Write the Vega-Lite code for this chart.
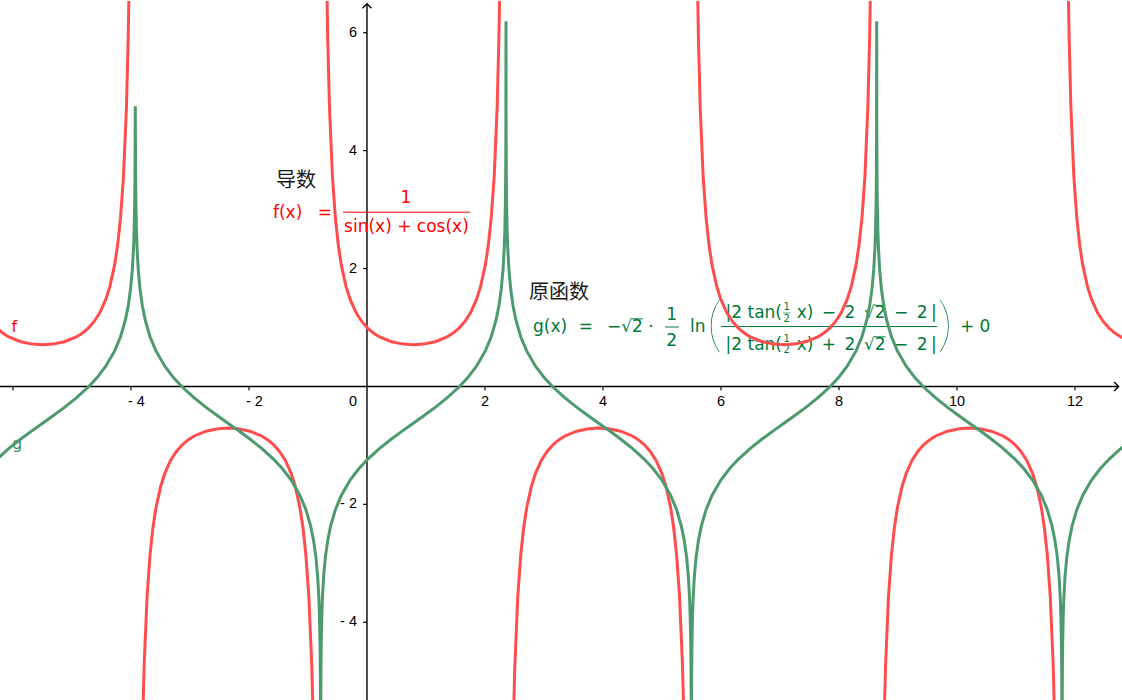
{
  "$schema": "https://vega.github.io/schema/vega-lite/v6.json",
  "width": 1122,
  "height": 700,
  "autosize": {"type": "fit", "contains": "padding"},
  "padding": 0,
  "background": "white",
  "config": {"view": {"stroke": null}, "text": {"font": "DejaVu Sans"}},
  "datasets": {
    "f": [
      {"b": "F1", "x": -6.4686, "y": 1.252}, {"b": "F1", "x": -6.3686, "y": 1.098}, {"b": "F1", "x": -6.2686, "y": 0.986},
      {"b": "F1", "x": -6.1686, "y": 0.903}, {"b": "F1", "x": -6.0686, "y": 0.84}, {"b": "F1", "x": -5.8686, "y": 0.759},
      {"b": "F1", "x": -5.6686, "y": 0.718}, {"b": "F1", "x": -5.4978, "y": 0.707}, {"b": "F1", "x": -5.327, "y": 0.718},
      {"b": "F1", "x": -5.127, "y": 0.759}, {"b": "F1", "x": -4.927, "y": 0.84}, {"b": "F1", "x": -4.827, "y": 0.903},
      {"b": "F1", "x": -4.727, "y": 0.986}, {"b": "F1", "x": -4.627, "y": 1.098}, {"b": "F1", "x": -4.527, "y": 1.252},
      {"b": "F1", "x": -4.427, "y": 1.475}, {"b": "F1", "x": -4.357, "y": 1.696}, {"b": "F1", "x": -4.277, "y": 2.062},
      {"b": "F1", "x": -4.227, "y": 2.393}, {"b": "F1", "x": -4.177, "y": 2.858}, {"b": "F1", "x": -4.127, "y": 3.559},
      {"b": "F1", "x": -4.077, "y": 4.732}, {"b": "F1", "x": -4.047, "y": 5.907}, {"b": "F1", "x": -4.027, "y": 7.083},
      {"b": "F1", "x": -4.007, "y": 8.848}, {"b": "F1", "x": -3.987, "y": 11.79},

      {"b": "F2", "x": -3.867, "y": -11.79}, {"b": "F2", "x": -3.847, "y": -8.848}, {"b": "F2", "x": -3.827, "y": -7.083},
      {"b": "F2", "x": -3.807, "y": -5.907}, {"b": "F2", "x": -3.777, "y": -4.732}, {"b": "F2", "x": -3.727, "y": -3.559},
      {"b": "F2", "x": -3.677, "y": -2.858}, {"b": "F2", "x": -3.627, "y": -2.393}, {"b": "F2", "x": -3.577, "y": -2.062},
      {"b": "F2", "x": -3.497, "y": -1.696}, {"b": "F2", "x": -3.427, "y": -1.475}, {"b": "F2", "x": -3.327, "y": -1.252},
      {"b": "F2", "x": -3.227, "y": -1.098}, {"b": "F2", "x": -3.127, "y": -0.986}, {"b": "F2", "x": -3.027, "y": -0.903},
      {"b": "F2", "x": -2.927, "y": -0.84}, {"b": "F2", "x": -2.727, "y": -0.759}, {"b": "F2", "x": -2.527, "y": -0.718},
      {"b": "F2", "x": -2.3562, "y": -0.707}, {"b": "F2", "x": -2.1854, "y": -0.718}, {"b": "F2", "x": -1.9854, "y": -0.759},
      {"b": "F2", "x": -1.7854, "y": -0.84}, {"b": "F2", "x": -1.6854, "y": -0.903}, {"b": "F2", "x": -1.5854, "y": -0.986},
      {"b": "F2", "x": -1.4854, "y": -1.098}, {"b": "F2", "x": -1.3854, "y": -1.252}, {"b": "F2", "x": -1.2854, "y": -1.475},
      {"b": "F2", "x": -1.2154, "y": -1.696}, {"b": "F2", "x": -1.1354, "y": -2.062}, {"b": "F2", "x": -1.0854, "y": -2.393},
      {"b": "F2", "x": -1.0354, "y": -2.858}, {"b": "F2", "x": -0.9854, "y": -3.559}, {"b": "F2", "x": -0.9354, "y": -4.732},
      {"b": "F2", "x": -0.9054, "y": -5.907}, {"b": "F2", "x": -0.8854, "y": -7.083}, {"b": "F2", "x": -0.8654, "y": -8.848},
      {"b": "F2", "x": -0.8454, "y": -11.79},

      {"b": "F3", "x": -0.7254, "y": 11.79}, {"b": "F3", "x": -0.7054, "y": 8.848}, {"b": "F3", "x": -0.6854, "y": 7.083},
      {"b": "F3", "x": -0.6654, "y": 5.907}, {"b": "F3", "x": -0.6354, "y": 4.732}, {"b": "F3", "x": -0.5854, "y": 3.559},
      {"b": "F3", "x": -0.5354, "y": 2.858}, {"b": "F3", "x": -0.4854, "y": 2.393}, {"b": "F3", "x": -0.4354, "y": 2.062},
      {"b": "F3", "x": -0.3554, "y": 1.696}, {"b": "F3", "x": -0.2854, "y": 1.475}, {"b": "F3", "x": -0.1854, "y": 1.252},
      {"b": "F3", "x": -0.0854, "y": 1.098}, {"b": "F3", "x": 0.0146, "y": 0.986}, {"b": "F3", "x": 0.1146, "y": 0.903},
      {"b": "F3", "x": 0.2146, "y": 0.84}, {"b": "F3", "x": 0.4146, "y": 0.759}, {"b": "F3", "x": 0.6146, "y": 0.718},
      {"b": "F3", "x": 0.7854, "y": 0.707}, {"b": "F3", "x": 0.9562, "y": 0.718}, {"b": "F3", "x": 1.1562, "y": 0.759},
      {"b": "F3", "x": 1.3562, "y": 0.84}, {"b": "F3", "x": 1.4562, "y": 0.903}, {"b": "F3", "x": 1.5562, "y": 0.986},
      {"b": "F3", "x": 1.6562, "y": 1.098}, {"b": "F3", "x": 1.7562, "y": 1.252}, {"b": "F3", "x": 1.8562, "y": 1.475},
      {"b": "F3", "x": 1.9262, "y": 1.696}, {"b": "F3", "x": 2.0062, "y": 2.062}, {"b": "F3", "x": 2.0562, "y": 2.393},
      {"b": "F3", "x": 2.1062, "y": 2.858}, {"b": "F3", "x": 2.1562, "y": 3.559}, {"b": "F3", "x": 2.2062, "y": 4.732},
      {"b": "F3", "x": 2.2362, "y": 5.907}, {"b": "F3", "x": 2.2562, "y": 7.083}, {"b": "F3", "x": 2.2762, "y": 8.848},
      {"b": "F3", "x": 2.2962, "y": 11.79},

      {"b": "F4", "x": 2.4162, "y": -11.79}, {"b": "F4", "x": 2.4362, "y": -8.848}, {"b": "F4", "x": 2.4562, "y": -7.083},
      {"b": "F4", "x": 2.4762, "y": -5.907}, {"b": "F4", "x": 2.5062, "y": -4.732}, {"b": "F4", "x": 2.5562, "y": -3.559},
      {"b": "F4", "x": 2.6062, "y": -2.858}, {"b": "F4", "x": 2.6562, "y": -2.393}, {"b": "F4", "x": 2.7062, "y": -2.062},
      {"b": "F4", "x": 2.7862, "y": -1.696}, {"b": "F4", "x": 2.8562, "y": -1.475}, {"b": "F4", "x": 2.9562, "y": -1.252},
      {"b": "F4", "x": 3.0562, "y": -1.098}, {"b": "F4", "x": 3.1562, "y": -0.986}, {"b": "F4", "x": 3.2562, "y": -0.903},
      {"b": "F4", "x": 3.3562, "y": -0.84}, {"b": "F4", "x": 3.5562, "y": -0.759}, {"b": "F4", "x": 3.7562, "y": -0.718},
      {"b": "F4", "x": 3.927, "y": -0.707}, {"b": "F4", "x": 4.0978, "y": -0.718}, {"b": "F4", "x": 4.2978, "y": -0.759},
      {"b": "F4", "x": 4.4978, "y": -0.84}, {"b": "F4", "x": 4.5978, "y": -0.903}, {"b": "F4", "x": 4.6978, "y": -0.986},
      {"b": "F4", "x": 4.7978, "y": -1.098}, {"b": "F4", "x": 4.8978, "y": -1.252}, {"b": "F4", "x": 4.9978, "y": -1.475},
      {"b": "F4", "x": 5.0678, "y": -1.696}, {"b": "F4", "x": 5.1478, "y": -2.062}, {"b": "F4", "x": 5.1978, "y": -2.393},
      {"b": "F4", "x": 5.2478, "y": -2.858}, {"b": "F4", "x": 5.2978, "y": -3.559}, {"b": "F4", "x": 5.3478, "y": -4.732},
      {"b": "F4", "x": 5.3778, "y": -5.907}, {"b": "F4", "x": 5.3978, "y": -7.083}, {"b": "F4", "x": 5.4178, "y": -8.848},
      {"b": "F4", "x": 5.4378, "y": -11.79},

      {"b": "F5", "x": 5.5578, "y": 11.79}, {"b": "F5", "x": 5.5778, "y": 8.848}, {"b": "F5", "x": 5.5978, "y": 7.083},
      {"b": "F5", "x": 5.6178, "y": 5.907}, {"b": "F5", "x": 5.6478, "y": 4.732}, {"b": "F5", "x": 5.6978, "y": 3.559},
      {"b": "F5", "x": 5.7478, "y": 2.858}, {"b": "F5", "x": 5.7978, "y": 2.393}, {"b": "F5", "x": 5.8478, "y": 2.062},
      {"b": "F5", "x": 5.9278, "y": 1.696}, {"b": "F5", "x": 5.9978, "y": 1.475}, {"b": "F5", "x": 6.0978, "y": 1.252},
      {"b": "F5", "x": 6.1978, "y": 1.098}, {"b": "F5", "x": 6.2978, "y": 0.986}, {"b": "F5", "x": 6.3978, "y": 0.903},
      {"b": "F5", "x": 6.4978, "y": 0.84}, {"b": "F5", "x": 6.6978, "y": 0.759}, {"b": "F5", "x": 6.8978, "y": 0.718},
      {"b": "F5", "x": 7.0686, "y": 0.707}, {"b": "F5", "x": 7.2394, "y": 0.718}, {"b": "F5", "x": 7.4394, "y": 0.759},
      {"b": "F5", "x": 7.6394, "y": 0.84}, {"b": "F5", "x": 7.7394, "y": 0.903}, {"b": "F5", "x": 7.8394, "y": 0.986},
      {"b": "F5", "x": 7.9394, "y": 1.098}, {"b": "F5", "x": 8.0394, "y": 1.252}, {"b": "F5", "x": 8.1394, "y": 1.475},
      {"b": "F5", "x": 8.2094, "y": 1.696}, {"b": "F5", "x": 8.2894, "y": 2.062}, {"b": "F5", "x": 8.3394, "y": 2.393},
      {"b": "F5", "x": 8.3894, "y": 2.858}, {"b": "F5", "x": 8.4394, "y": 3.559}, {"b": "F5", "x": 8.4894, "y": 4.732},
      {"b": "F5", "x": 8.5194, "y": 5.907}, {"b": "F5", "x": 8.5394, "y": 7.083}, {"b": "F5", "x": 8.5594, "y": 8.848},
      {"b": "F5", "x": 8.5794, "y": 11.79},

      {"b": "F6", "x": 8.6994, "y": -11.79}, {"b": "F6", "x": 8.7194, "y": -8.848}, {"b": "F6", "x": 8.7394, "y": -7.083},
      {"b": "F6", "x": 8.7594, "y": -5.907}, {"b": "F6", "x": 8.7894, "y": -4.732}, {"b": "F6", "x": 8.8394, "y": -3.559},
      {"b": "F6", "x": 8.8894, "y": -2.858}, {"b": "F6", "x": 8.9394, "y": -2.393}, {"b": "F6", "x": 8.9894, "y": -2.062},
      {"b": "F6", "x": 9.0694, "y": -1.696}, {"b": "F6", "x": 9.1394, "y": -1.475}, {"b": "F6", "x": 9.2394, "y": -1.252},
      {"b": "F6", "x": 9.3394, "y": -1.098}, {"b": "F6", "x": 9.4394, "y": -0.986}, {"b": "F6", "x": 9.5394, "y": -0.903},
      {"b": "F6", "x": 9.6394, "y": -0.84}, {"b": "F6", "x": 9.8394, "y": -0.759}, {"b": "F6", "x": 10.0394, "y": -0.718},
      {"b": "F6", "x": 10.2102, "y": -0.707}, {"b": "F6", "x": 10.381, "y": -0.718}, {"b": "F6", "x": 10.581, "y": -0.759},
      {"b": "F6", "x": 10.781, "y": -0.84}, {"b": "F6", "x": 10.881, "y": -0.903}, {"b": "F6", "x": 10.981, "y": -0.986},
      {"b": "F6", "x": 11.081, "y": -1.098}, {"b": "F6", "x": 11.181, "y": -1.252}, {"b": "F6", "x": 11.281, "y": -1.475},
      {"b": "F6", "x": 11.351, "y": -1.696}, {"b": "F6", "x": 11.431, "y": -2.062}, {"b": "F6", "x": 11.481, "y": -2.393},
      {"b": "F6", "x": 11.531, "y": -2.858}, {"b": "F6", "x": 11.581, "y": -3.559}, {"b": "F6", "x": 11.631, "y": -4.732},
      {"b": "F6", "x": 11.661, "y": -5.907}, {"b": "F6", "x": 11.681, "y": -7.083}, {"b": "F6", "x": 11.701, "y": -8.848},
      {"b": "F6", "x": 11.721, "y": -11.79},

      {"b": "F7", "x": 11.841, "y": 11.79}, {"b": "F7", "x": 11.861, "y": 8.848}, {"b": "F7", "x": 11.881, "y": 7.083},
      {"b": "F7", "x": 11.901, "y": 5.907}, {"b": "F7", "x": 11.931, "y": 4.732}, {"b": "F7", "x": 11.981, "y": 3.559},
      {"b": "F7", "x": 12.031, "y": 2.858}, {"b": "F7", "x": 12.081, "y": 2.393}, {"b": "F7", "x": 12.131, "y": 2.062},
      {"b": "F7", "x": 12.211, "y": 1.696}, {"b": "F7", "x": 12.281, "y": 1.475}, {"b": "F7", "x": 12.381, "y": 1.252},
      {"b": "F7", "x": 12.481, "y": 1.098}, {"b": "F7", "x": 12.581, "y": 0.986}, {"b": "F7", "x": 12.681, "y": 0.903},
      {"b": "F7", "x": 12.781, "y": 0.84}, {"b": "F7", "x": 12.981, "y": 0.759}
    ],
    "g": [
      {"x": -6.2686, "y": -1.2319}, {"x": -6.0686, "y": -1.0507}, {"x": -5.8686, "y": -0.8916}, {"x": -5.6686, "y": -0.7446},
      {"x": -5.4978, "y": -0.6232}, {"x": -5.327, "y": -0.5018}, {"x": -5.127, "y": -0.3548}, {"x": -4.927, "y": -0.1957},
      {"x": -4.727, "y": -0.0145}, {"x": -4.577, "y": 0.146}, {"x": -4.427, "y": 0.3421}, {"x": -4.277, "y": 0.602},
      {"x": -4.177, "y": 0.8435}, {"x": -4.097, "y": 1.1182}, {"x": -4.047, "y": 1.3653}, {"x": -4.007, "y": 1.6525},
      {"x": -3.977, "y": 1.9851}, {"x": -3.957, "y": 2.3464}, {"x": -3.947, "y": 2.6331}, {"x": -3.937, "y": 3.1233},
      {"x": -3.932, "y": 3.6134}, {"x": -3.929, "y": 4.2613}, {"x": -3.927, "y": 4.7515},
      {"x": -3.925, "y": 4.2613}, {"x": -3.922, "y": 3.6134}, {"x": -3.917, "y": 3.1233}, {"x": -3.907, "y": 2.6331},
      {"x": -3.897, "y": 2.3464}, {"x": -3.877, "y": 1.9851}, {"x": -3.847, "y": 1.6525}, {"x": -3.807, "y": 1.3653},
      {"x": -3.757, "y": 1.1182}, {"x": -3.677, "y": 0.8435}, {"x": -3.577, "y": 0.602}, {"x": -3.427, "y": 0.3421},
      {"x": -3.277, "y": 0.146}, {"x": -3.127, "y": -0.0145}, {"x": -2.927, "y": -0.1957}, {"x": -2.727, "y": -0.3548},
      {"x": -2.527, "y": -0.5018}, {"x": -2.3562, "y": -0.6232}, {"x": -2.1854, "y": -0.7446}, {"x": -1.9854, "y": -0.8916},
      {"x": -1.7854, "y": -1.0507}, {"x": -1.5854, "y": -1.2319}, {"x": -1.4354, "y": -1.3924}, {"x": -1.2854, "y": -1.5885},
      {"x": -1.1354, "y": -1.8484}, {"x": -1.0354, "y": -2.0899}, {"x": -0.9554, "y": -2.3646}, {"x": -0.9054, "y": -2.6117},
      {"x": -0.8654, "y": -2.8989}, {"x": -0.8354, "y": -3.2315}, {"x": -0.8154, "y": -3.5928}, {"x": -0.8054, "y": -3.8795},
      {"x": -0.7954, "y": -4.3697}, {"x": -0.7904, "y": -4.8598}, {"x": -0.7874, "y": -5.5077},
      {"x": -0.7834, "y": -5.5077}, {"x": -0.7804, "y": -4.8598}, {"x": -0.7754, "y": -4.3697}, {"x": -0.7654, "y": -3.8795},
      {"x": -0.7554, "y": -3.5928}, {"x": -0.7354, "y": -3.2315}, {"x": -0.7054, "y": -2.8989}, {"x": -0.6654, "y": -2.6117},
      {"x": -0.6154, "y": -2.3646}, {"x": -0.5354, "y": -2.0899}, {"x": -0.4354, "y": -1.8484}, {"x": -0.2854, "y": -1.5885},
      {"x": -0.1354, "y": -1.3924}, {"x": 0.0146, "y": -1.2319}, {"x": 0.2146, "y": -1.0507}, {"x": 0.4146, "y": -0.8916},
      {"x": 0.6146, "y": -0.7446}, {"x": 0.7854, "y": -0.6232}, {"x": 0.9562, "y": -0.5018}, {"x": 1.1562, "y": -0.3548},
      {"x": 1.3562, "y": -0.1957}, {"x": 1.5562, "y": -0.0145}, {"x": 1.7062, "y": 0.146}, {"x": 1.8562, "y": 0.3421},
      {"x": 2.0062, "y": 0.602}, {"x": 2.1062, "y": 0.8435}, {"x": 2.1862, "y": 1.1182}, {"x": 2.2362, "y": 1.3653},
      {"x": 2.2762, "y": 1.6525}, {"x": 2.3062, "y": 1.9851}, {"x": 2.3262, "y": 2.3464}, {"x": 2.3362, "y": 2.6331},
      {"x": 2.3462, "y": 3.1233}, {"x": 2.3512, "y": 3.6134}, {"x": 2.3542, "y": 4.2613}, {"x": 2.3562, "y": 6.194},
      {"x": 2.3582, "y": 4.2613}, {"x": 2.3612, "y": 3.6134}, {"x": 2.3662, "y": 3.1233}, {"x": 2.3762, "y": 2.6331},
      {"x": 2.3862, "y": 2.3464}, {"x": 2.4062, "y": 1.9851}, {"x": 2.4362, "y": 1.6525}, {"x": 2.4762, "y": 1.3653},
      {"x": 2.5262, "y": 1.1182}, {"x": 2.6062, "y": 0.8435}, {"x": 2.7062, "y": 0.602}, {"x": 2.8562, "y": 0.3421},
      {"x": 3.0062, "y": 0.146}, {"x": 3.1562, "y": -0.0145}, {"x": 3.3562, "y": -0.1957}, {"x": 3.5562, "y": -0.3548},
      {"x": 3.7562, "y": -0.5018}, {"x": 3.927, "y": -0.6232}, {"x": 4.0978, "y": -0.7446}, {"x": 4.2978, "y": -0.8916},
      {"x": 4.4978, "y": -1.0507}, {"x": 4.6978, "y": -1.2319}, {"x": 4.8478, "y": -1.3924}, {"x": 4.9978, "y": -1.5885},
      {"x": 5.1478, "y": -1.8484}, {"x": 5.2478, "y": -2.0899}, {"x": 5.3278, "y": -2.3646}, {"x": 5.3778, "y": -2.6117},
      {"x": 5.4178, "y": -2.8989}, {"x": 5.4478, "y": -3.2315}, {"x": 5.4678, "y": -3.5928}, {"x": 5.4778, "y": -3.8795},
      {"x": 5.4878, "y": -4.3697}, {"x": 5.4928, "y": -4.8598}, {"x": 5.4958, "y": -5.5077},
      {"x": 5.4998, "y": -5.5077}, {"x": 5.5028, "y": -4.8598}, {"x": 5.5078, "y": -4.3697}, {"x": 5.5178, "y": -3.8795},
      {"x": 5.5278, "y": -3.5928}, {"x": 5.5478, "y": -3.2315}, {"x": 5.5778, "y": -2.8989}, {"x": 5.6178, "y": -2.6117},
      {"x": 5.6678, "y": -2.3646}, {"x": 5.7478, "y": -2.0899}, {"x": 5.8478, "y": -1.8484}, {"x": 5.9978, "y": -1.5885},
      {"x": 6.1478, "y": -1.3924}, {"x": 6.2978, "y": -1.2319}, {"x": 6.4978, "y": -1.0507}, {"x": 6.6978, "y": -0.8916},
      {"x": 6.8978, "y": -0.7446}, {"x": 7.0686, "y": -0.6232}, {"x": 7.2394, "y": -0.5018}, {"x": 7.4394, "y": -0.3548},
      {"x": 7.6394, "y": -0.1957}, {"x": 7.8394, "y": -0.0145}, {"x": 7.9894, "y": 0.146}, {"x": 8.1394, "y": 0.3421},
      {"x": 8.2894, "y": 0.602}, {"x": 8.3894, "y": 0.8435}, {"x": 8.4694, "y": 1.1182}, {"x": 8.5194, "y": 1.3653},
      {"x": 8.5594, "y": 1.6525}, {"x": 8.5894, "y": 1.9851}, {"x": 8.6094, "y": 2.3464}, {"x": 8.6194, "y": 2.6331},
      {"x": 8.6294, "y": 3.1233}, {"x": 8.6344, "y": 3.6134}, {"x": 8.6374, "y": 4.2613}, {"x": 8.6394, "y": 6.194},
      {"x": 8.6414, "y": 4.2613}, {"x": 8.6444, "y": 3.6134}, {"x": 8.6494, "y": 3.1233}, {"x": 8.6594, "y": 2.6331},
      {"x": 8.6694, "y": 2.3464}, {"x": 8.6894, "y": 1.9851}, {"x": 8.7194, "y": 1.6525}, {"x": 8.7594, "y": 1.3653},
      {"x": 8.8094, "y": 1.1182}, {"x": 8.8894, "y": 0.8435}, {"x": 8.9894, "y": 0.602}, {"x": 9.1394, "y": 0.3421},
      {"x": 9.2894, "y": 0.146}, {"x": 9.4394, "y": -0.0145}, {"x": 9.6394, "y": -0.1957}, {"x": 9.8394, "y": -0.3548},
      {"x": 10.0394, "y": -0.5018}, {"x": 10.2102, "y": -0.6232}, {"x": 10.381, "y": -0.7446}, {"x": 10.581, "y": -0.8916},
      {"x": 10.781, "y": -1.0507}, {"x": 10.981, "y": -1.2319}, {"x": 11.131, "y": -1.3924}, {"x": 11.281, "y": -1.5885},
      {"x": 11.431, "y": -1.8484}, {"x": 11.531, "y": -2.0899}, {"x": 11.611, "y": -2.3646}, {"x": 11.661, "y": -2.6117},
      {"x": 11.701, "y": -2.8989}, {"x": 11.731, "y": -3.2315}, {"x": 11.751, "y": -3.5928}, {"x": 11.761, "y": -3.8795},
      {"x": 11.771, "y": -4.3697}, {"x": 11.776, "y": -4.8598}, {"x": 11.779, "y": -5.5077},
      {"x": 11.783, "y": -5.5077}, {"x": 11.786, "y": -4.8598}, {"x": 11.791, "y": -4.3697}, {"x": 11.801, "y": -3.8795},
      {"x": 11.811, "y": -3.5928}, {"x": 11.831, "y": -3.2315}, {"x": 11.861, "y": -2.8989}, {"x": 11.901, "y": -2.6117},
      {"x": 11.951, "y": -2.3646}, {"x": 12.031, "y": -2.0899}, {"x": 12.131, "y": -1.8484}, {"x": 12.281, "y": -1.5885},
      {"x": 12.431, "y": -1.3924}, {"x": 12.581, "y": -1.2319}, {"x": 12.781, "y": -1.0507}, {"x": 12.981, "y": -0.8916}
    ],
    "axes": [
      {"grp": "line", "x": -6.22, "x2": 12.74, "y": 0, "y2": 0},
      {"grp": "line", "x": 0, "x2": 0, "y": -5.318, "y2": 6.49},
      {"grp": "tick", "x": -6, "x2": -6, "y": 0, "y2": -0.065},
      {"grp": "tick", "x": -4, "x2": -4, "y": 0, "y2": -0.065},
      {"grp": "tick", "x": -2, "x2": -2, "y": 0, "y2": -0.065},
      {"grp": "tick", "x": 2, "x2": 2, "y": 0, "y2": -0.065},
      {"grp": "tick", "x": 4, "x2": 4, "y": 0, "y2": -0.065},
      {"grp": "tick", "x": 6, "x2": 6, "y": 0, "y2": -0.065},
      {"grp": "tick", "x": 8, "x2": 8, "y": 0, "y2": -0.065},
      {"grp": "tick", "x": 10, "x2": 10, "y": 0, "y2": -0.065},
      {"grp": "tick", "x": 12, "x2": 12, "y": 0, "y2": -0.065},
      {"grp": "tick", "x": 0, "x2": -0.065, "y": -4, "y2": -4},
      {"grp": "tick", "x": 0, "x2": -0.065, "y": -2, "y2": -2},
      {"grp": "tick", "x": 0, "x2": -0.065, "y": 2, "y2": 2},
      {"grp": "tick", "x": 0, "x2": -0.065, "y": 4, "y2": 4},
      {"grp": "tick", "x": 0, "x2": -0.065, "y": 6, "y2": 6}
    ],
    "labels": [
      {"grp": "xpos", "x": 2, "y": 0, "t": "2"},
      {"grp": "xpos", "x": 4, "y": 0, "t": "4"},
      {"grp": "xpos", "x": 6, "y": 0, "t": "6"},
      {"grp": "xpos", "x": 8, "y": 0, "t": "8"},
      {"grp": "xpos", "x": 10, "y": 0, "t": "10"},
      {"grp": "xpos", "x": 12, "y": 0, "t": "12"},
      {"grp": "xneg", "x": -4, "y": 0, "t": "- 4"},
      {"grp": "xneg", "x": -2, "y": 0, "t": "- 2"},
      {"grp": "orig", "x": 0, "y": 0, "t": "0"},
      {"grp": "ylab", "x": 0, "y": 6, "t": "6"},
      {"grp": "ylab", "x": 0, "y": 4, "t": "4"},
      {"grp": "ylab", "x": 0, "y": 2, "t": "2"},
      {"grp": "ylab", "x": 0, "y": -2, "t": "- 2"},
      {"grp": "ylab", "x": 0, "y": -4, "t": "- 4"}
    ],
    "arrows": [
      {"grp": "right", "x": 12.74, "y": 0},
      {"grp": "up", "x": 0, "y": 6.49}
    ],
    "txt": [
      {"grp": "cn", "x": -1.542, "y": 3.489, "t": "导数"},
      {"grp": "cn", "x": 2.746, "y": 1.592, "t": "原函数"},
      {"grp": "fL", "x": -1.593, "y": 2.947, "t": "f(x)"},
      {"grp": "fC", "x": -0.712, "y": 2.947, "t": "="},
      {"grp": "fC", "x": 0.661, "y": 3.201, "t": "1"},
      {"grp": "fC", "x": 0.669, "y": 2.71, "t": "sin(x) + cos(x)"},
      {"grp": "gL", "x": 2.814, "y": 1.016, "t": "g(x)"},
      {"grp": "gC", "x": 3.712, "y": 1.016, "t": "="},
      {"grp": "gL", "x": 4.068, "y": 1.016, "t": "−√2 ·"},
      {"grp": "gC", "x": 5.164, "y": 1.219, "t": "1"},
      {"grp": "gC", "x": 5.164, "y": 0.771, "t": "2"},
      {"grp": "gL", "x": 5.475, "y": 1.016, "t": "ln"},
      {"grp": "gR", "x": 7.034, "y": 1.245, "t": "|2 tan("},
      {"grp": "gL", "x": 7.283, "y": 1.245, "t": "x)\u2002−\u20022\u2002√2\u2002−\u20022\u2009|"},
      {"grp": "gR", "x": 7.034, "y": 0.711, "t": "|2 tan("},
      {"grp": "gL", "x": 7.283, "y": 0.711, "t": "x)\u2002+\u20022\u2002√2\u2002−\u20022\u2009|"},
      {"grp": "gL", "x": 10.05, "y": 1.016, "t": "+ 0"},
      {"grp": "gS", "x": 7.114, "y": 1.346, "t": "1"},
      {"grp": "gS", "x": 7.114, "y": 1.146, "t": "2"},
      {"grp": "gS", "x": 7.114, "y": 0.804, "t": "1"},
      {"grp": "gS", "x": 7.114, "y": 0.61, "t": "2"},
      {"grp": "gP", "x": 5.89, "y": 1.016, "t": "("},
      {"grp": "gP", "x": 9.797, "y": 1.016, "t": ")"},
      {"grp": "fl", "x": -6.025, "y": 1.0, "t": "f"},
      {"grp": "gl", "x": -6.017, "y": -0.98, "t": "g"}
    ],
    "bars": [
      {"grp": "f", "x": -0.407, "x2": 1.746, "y": 2.955},
      {"grp": "g", "x": 5.051, "x2": 5.288, "y": 1.008},
      {"grp": "g", "x": 6.0, "x2": 9.661, "y": 1.016},
      {"grp": "g", "x": 4.492, "x2": 4.675, "y": 1.146},
      {"grp": "g", "x": 8.605, "x2": 8.788, "y": 1.375},
      {"grp": "g", "x": 8.605, "x2": 8.788, "y": 0.841},
      {"grp": "gs", "x": 7.05, "x2": 7.175, "y": 1.245},
      {"grp": "gs", "x": 7.05, "x2": 7.175, "y": 0.706}
    ]
  },
  "encoding": {
    "x": {"field": "x", "type": "quantitative", "scale": {"domain": [-6.22, 12.797], "nice": false, "zero": false}, "axis": null},
    "y": {"field": "y", "type": "quantitative", "scale": {"domain": [-5.318, 6.537], "nice": false, "zero": false}, "axis": null}
  },
  "layer": [
    {
      "data": {"name": "axes"},
      "transform": [{"filter": "datum.grp === 'line'"}],
      "mark": {"type": "rule", "color": "black", "strokeWidth": 1.4, "clip": true},
      "encoding": {"x2": {"field": "x2"}, "y2": {"field": "y2"}}
    },
    {
      "data": {"name": "axes"},
      "transform": [{"filter": "datum.grp === 'tick'"}],
      "mark": {"type": "rule", "color": "black", "strokeWidth": 1.2},
      "encoding": {"x2": {"field": "x2"}, "y2": {"field": "y2"}}
    },
    {
      "data": {"name": "labels"},
      "transform": [{"filter": "datum.grp === 'xpos'"}],
      "mark": {"type": "text", "align": "center", "baseline": "middle", "dy": 16, "font": "Liberation Sans", "fontSize": 14.5, "color": "black"},
      "encoding": {"text": {"field": "t"}}
    },
    {
      "data": {"name": "labels"},
      "transform": [{"filter": "datum.grp === 'xneg'"}],
      "mark": {"type": "text", "align": "left", "baseline": "middle", "dx": -3, "dy": 16, "font": "Liberation Sans", "fontSize": 14.5, "color": "black"},
      "encoding": {"text": {"field": "t"}}
    },
    {
      "data": {"name": "labels"},
      "transform": [{"filter": "datum.grp === 'orig'"}],
      "mark": {"type": "text", "align": "right", "baseline": "middle", "dx": -10, "dy": 16, "font": "Liberation Sans", "fontSize": 14.5, "color": "black"},
      "encoding": {"text": {"field": "t"}}
    },
    {
      "data": {"name": "labels"},
      "transform": [{"filter": "datum.grp === 'ylab'"}],
      "mark": {"type": "text", "align": "right", "baseline": "middle", "dx": -10, "font": "Liberation Sans", "fontSize": 14.5, "color": "black"},
      "encoding": {"text": {"field": "t"}}
    },
    {
      "data": {"name": "arrows"},
      "transform": [{"filter": "datum.grp === 'right'"}],
      "mark": {"type": "point", "shape": "M-1,-1L0,0L-1,1", "filled": false, "stroke": "black", "strokeWidth": 1.4, "size": 81, "opacity": 1}
    },
    {
      "data": {"name": "arrows"},
      "transform": [{"filter": "datum.grp === 'up'"}],
      "mark": {"type": "point", "shape": "M-1,1L0,0L1,1", "filled": false, "stroke": "black", "strokeWidth": 1.4, "size": 81, "opacity": 1}
    },
    {
      "data": {"name": "txt"},
      "transform": [{"filter": "datum.grp === 'cn'"}],
      "mark": {"type": "text", "align": "left", "baseline": "middle", "font": "Noto Sans CJK SC", "fontSize": 20, "color": "#1a1a1a"},
      "encoding": {"text": {"field": "t"}}
    },
    {
      "data": {"name": "txt"},
      "transform": [{"filter": "datum.grp === 'fL'"}],
      "mark": {"type": "text", "align": "left", "baseline": "middle", "fontSize": 17, "color": "#ff0000"},
      "encoding": {"text": {"field": "t"}}
    },
    {
      "data": {"name": "txt"},
      "transform": [{"filter": "datum.grp === 'fC'"}],
      "mark": {"type": "text", "align": "center", "baseline": "middle", "fontSize": 17, "color": "#ff0000"},
      "encoding": {"text": {"field": "t"}}
    },
    {
      "data": {"name": "bars"},
      "transform": [{"filter": "datum.grp === 'f'"}],
      "mark": {"type": "rule", "color": "#ff0000", "strokeWidth": 1},
      "encoding": {"x2": {"field": "x2"}}
    },
    {
      "data": {"name": "txt"},
      "transform": [{"filter": "datum.grp === 'gL'"}],
      "mark": {"type": "text", "align": "left", "baseline": "middle", "fontSize": 17, "color": "#007839"},
      "encoding": {"text": {"field": "t"}}
    },
    {
      "data": {"name": "txt"},
      "transform": [{"filter": "datum.grp === 'gR'"}],
      "mark": {"type": "text", "align": "right", "baseline": "middle", "fontSize": 17, "color": "#007839"},
      "encoding": {"text": {"field": "t"}}
    },
    {
      "data": {"name": "txt"},
      "transform": [{"filter": "datum.grp === 'gC'"}],
      "mark": {"type": "text", "align": "center", "baseline": "middle", "fontSize": 17, "color": "#007839"},
      "encoding": {"text": {"field": "t"}}
    },
    {
      "data": {"name": "txt"},
      "transform": [{"filter": "datum.grp === 'gS'"}],
      "mark": {"type": "text", "align": "center", "baseline": "middle", "fontSize": 10, "color": "#007839"},
      "encoding": {"text": {"field": "t"}}
    },
    {
      "data": {"name": "txt"},
      "transform": [{"filter": "datum.grp === 'gP'"}],
      "mark": {"type": "text", "align": "center", "baseline": "middle", "font": "Lato", "fontWeight": 200, "fontSize": 60, "color": "#007839"},
      "encoding": {"text": {"field": "t"}}
    },
    {
      "data": {"name": "bars"},
      "transform": [{"filter": "datum.grp === 'g'"}],
      "mark": {"type": "rule", "color": "#007839", "strokeWidth": 1},
      "encoding": {"x2": {"field": "x2"}}
    },
    {
      "data": {"name": "bars"},
      "transform": [{"filter": "datum.grp === 'gs'"}],
      "mark": {"type": "rule", "color": "#007839", "strokeWidth": 0.7},
      "encoding": {"x2": {"field": "x2"}}
    },
    {
      "data": {"name": "txt"},
      "transform": [{"filter": "datum.grp === 'fl'"}],
      "mark": {"type": "text", "align": "left", "baseline": "middle", "fontSize": 16, "color": "#ff0000"},
      "encoding": {"text": {"field": "t"}}
    },
    {
      "data": {"name": "txt"},
      "transform": [{"filter": "datum.grp === 'gl'"}],
      "mark": {"type": "text", "align": "left", "baseline": "middle", "fontSize": 16, "color": "#3a8a5c"},
      "encoding": {"text": {"field": "t"}}
    },
    {
      "data": {"name": "f"},
      "mark": {"type": "line", "color": "#ff4d4d", "strokeWidth": 3, "clip": true},
      "encoding": {"detail": {"field": "b"}}
    },
    {
      "data": {"name": "g"},
      "mark": {"type": "line", "color": "#4c9a6e", "strokeWidth": 3, "clip": true}
    }
  ]
}
